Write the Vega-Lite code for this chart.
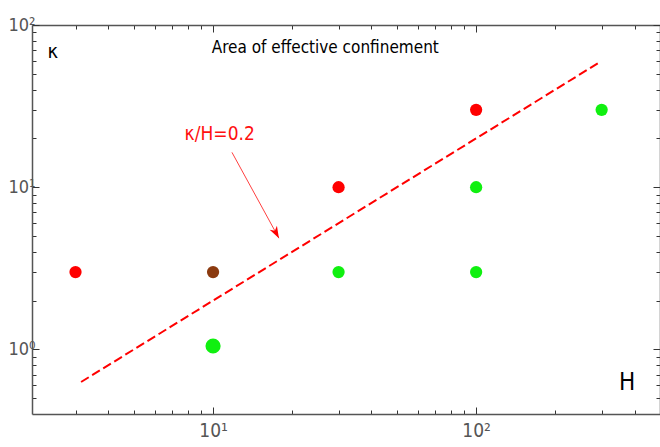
{
  "$schema": "https://vega.github.io/schema/vega-lite/v6.json",
  "width": 628,
  "height": 389,
  "autosize": {"type": "none"},
  "padding": {"left": 32, "top": 25, "right": 0, "bottom": 33},
  "background": "white",
  "config": {"view": {"stroke": null}, "font": "'DejaVu Sans Condensed', 'Liberation Sans', sans-serif"},
  "datasets": {
    "cases": [
      {"H": 3, "K": 3, "regime": "confined", "n": 1},
      {"H": 10, "K": 3, "regime": "marginal", "n": 1},
      {"H": 10, "K": 1.05, "regime": "unconfined", "n": 2},
      {"H": 30, "K": 10, "regime": "confined", "n": 1},
      {"H": 30, "K": 3, "regime": "unconfined", "n": 1},
      {"H": 100, "K": 30, "regime": "confined", "n": 1},
      {"H": 100, "K": 10, "regime": "unconfined", "n": 1},
      {"H": 100, "K": 3, "regime": "unconfined", "n": 1},
      {"H": 300, "K": 30, "regime": "unconfined", "n": 1}
    ],
    "bound": [
      {"H": 3.15, "K": 0.63},
      {"H": 290, "K": 58}
    ],
    "pointer": [
      {"H": 11.8, "K": 16.4, "H2": 17.8, "K2": 4.85}
    ],
    "notes": [
      {"H": 26.7, "K": 72.6, "text": "Area of effective confinement", "role": "title"},
      {"H": 2.46, "K": 67.7, "text": "κ", "role": "ylab"},
      {"H": 375, "K": 0.617, "text": "H", "role": "xlab"},
      {"H": 10.6, "K": 21.2, "text": "κ/H=0.2", "role": "bound"}
    ]
  },
  "layer": [
    {
      "data": {"name": "cases"},
      "mark": {"type": "circle", "opacity": 1},
      "encoding": {
        "x": {
          "field": "H", "type": "quantitative",
          "scale": {"type": "log", "domain": [2.05, 500], "nice": false},
          "axis": {
            "orient": "bottom", "title": null, "grid": false,
            "values": [3, 4, 5, 6, 7, 8, 9, 10, 20, 30, 40, 50, 60, 70, 80, 90, 100, 200, 300, 400],
            "labelExpr": "datum.value == 10 ? '10¹' : datum.value == 100 ? '10²' : ''",
            "tickSize": {"condition": {"test": "datum.value == 10 || datum.value == 100", "value": -7}, "value": -4},
            "tickColor": "#333", "domainColor": "#555", "domainWidth": 1.5,
            "labelColor": "#555", "labelFont": "'DejaVu Sans Condensed', 'Liberation Sans', sans-serif", "labelFontSize": 19,
            "labelPadding": 14, "labelFlush": false, "labelOverlap": false, "labelBound": false
          }
        },
        "y": {
          "field": "K", "type": "quantitative",
          "scale": {"type": "log", "domain": [0.4, 100], "nice": false},
          "axis": {
            "orient": "left", "title": null, "grid": false,
            "values": [0.5, 0.6, 0.7, 0.8, 0.9, 1, 2, 3, 4, 5, 6, 7, 8, 9, 10, 20, 30, 40, 50, 60, 70, 80, 90, 100],
            "labelExpr": "datum.value == 1 ? '10⁰' : datum.value == 10 ? '10¹' : datum.value == 100 ? '10²' : ''",
            "tickSize": {"condition": {"test": "datum.value == 1 || datum.value == 10 || datum.value == 100", "value": -7}, "value": -4},
            "tickColor": "#333", "domainColor": "#555", "domainWidth": 1.5,
            "labelColor": "#555", "labelFont": "'DejaVu Sans Condensed', 'Liberation Sans', sans-serif", "labelFontSize": 18,
            "labelPadding": 4, "labelFlush": false, "labelOverlap": false, "labelBound": false
          }
        },
        "color": {
          "field": "regime", "type": "nominal", "legend": null,
          "scale": {"domain": ["confined", "marginal", "unconfined"], "range": ["#ff0000", "#8b3a0f", "#10f010"]}
        },
        "size": {
          "field": "n", "type": "quantitative", "legend": null,
          "scale": {"domain": [1, 2], "range": [150, 230]}
        }
      }
    },
    {
      "data": {"name": "bound"},
      "mark": {"type": "line", "color": "#ff0000", "strokeWidth": 2, "strokeDash": [9, 4]},
      "encoding": {
        "x": {
          "field": "H", "type": "quantitative",
          "scale": {"type": "log", "domain": [2.05, 500], "nice": false},
          "axis": {
            "orient": "top", "title": null, "grid": false, "labels": false,
            "values": [3, 4, 5, 6, 7, 8, 9, 10, 20, 30, 40, 50, 60, 70, 80, 90, 100, 200, 300, 400],
            "tickSize": {"condition": {"test": "datum.value == 10 || datum.value == 100", "value": -7}, "value": -4},
            "tickColor": "#333", "domainColor": "#555", "domainWidth": 1.5
          }
        },
        "y": {
          "field": "K", "type": "quantitative",
          "scale": {"type": "log", "domain": [0.4, 100], "nice": false},
          "axis": {
            "orient": "right", "title": null, "grid": false, "labels": false,
            "values": [0.5, 0.6, 0.7, 0.8, 0.9, 1, 2, 3, 4, 5, 6, 7, 8, 9, 10, 20, 30, 40, 50, 60, 70, 80, 90, 100],
            "tickSize": {"condition": {"test": "datum.value == 1 || datum.value == 10 || datum.value == 100", "value": -7}, "value": -4},
            "tickColor": "#333", "domainColor": "#555", "domainWidth": 1.5
          }
        }
      }
    },
    {
      "data": {"name": "pointer"},
      "mark": {"type": "rule", "color": "#ff4040", "strokeWidth": 1},
      "encoding": {
        "x": {"field": "H", "type": "quantitative", "scale": {"type": "log", "domain": [2.05, 500], "nice": false}, "axis": null},
        "y": {"field": "K", "type": "quantitative", "scale": {"type": "log", "domain": [0.4, 100], "nice": false}, "axis": null},
        "x2": {"field": "H2"},
        "y2": {"field": "K2"}
      }
    },
    {
      "data": {"name": "pointer"},
      "mark": {"type": "point", "shape": "M0,0L-0.35,1L0,0.72L0.35,1Z", "filled": true, "color": "#ff0000", "size": 560, "angle": 151.5, "opacity": 1},
      "encoding": {
        "x": {"field": "H2", "type": "quantitative", "scale": {"type": "log", "domain": [2.05, 500], "nice": false}, "axis": null},
        "y": {"field": "K2", "type": "quantitative", "scale": {"type": "log", "domain": [0.4, 100], "nice": false}, "axis": null}
      }
    },
    {
      "data": {"name": "notes"},
      "transform": [{"filter": "datum.role == 'title'"}],
      "mark": {"type": "text", "fontSize": 17, "fontWeight": 500, "color": "#000", "align": "center", "baseline": "middle"},
      "encoding": {
        "x": {"field": "H", "type": "quantitative", "scale": {"type": "log", "domain": [2.05, 500], "nice": false}, "axis": null},
        "y": {"field": "K", "type": "quantitative", "scale": {"type": "log", "domain": [0.4, 100], "nice": false}, "axis": null},
        "text": {"field": "text"}
      }
    },
    {
      "data": {"name": "notes"},
      "transform": [{"filter": "datum.role == 'ylab'"}],
      "mark": {"type": "text", "fontSize": 20, "color": "#000", "align": "center", "baseline": "middle"},
      "encoding": {
        "x": {"field": "H", "type": "quantitative", "scale": {"type": "log", "domain": [2.05, 500], "nice": false}, "axis": null},
        "y": {"field": "K", "type": "quantitative", "scale": {"type": "log", "domain": [0.4, 100], "nice": false}, "axis": null},
        "text": {"field": "text"}
      }
    },
    {
      "data": {"name": "notes"},
      "transform": [{"filter": "datum.role == 'xlab'"}],
      "mark": {"type": "text", "fontSize": 24, "color": "#000", "align": "center", "baseline": "middle"},
      "encoding": {
        "x": {"field": "H", "type": "quantitative", "scale": {"type": "log", "domain": [2.05, 500], "nice": false}, "axis": null},
        "y": {"field": "K", "type": "quantitative", "scale": {"type": "log", "domain": [0.4, 100], "nice": false}, "axis": null},
        "text": {"field": "text"}
      }
    },
    {
      "data": {"name": "notes"},
      "transform": [{"filter": "datum.role == 'bound'"}],
      "mark": {"type": "text", "fontSize": 19, "color": "#ff1010", "align": "center", "baseline": "middle"},
      "encoding": {
        "x": {"field": "H", "type": "quantitative", "scale": {"type": "log", "domain": [2.05, 500], "nice": false}, "axis": null},
        "y": {"field": "K", "type": "quantitative", "scale": {"type": "log", "domain": [0.4, 100], "nice": false}, "axis": null},
        "text": {"field": "text"}
      }
    }
  ],
  "resolve": {"axis": {"x": "independent", "y": "independent"}}
}
